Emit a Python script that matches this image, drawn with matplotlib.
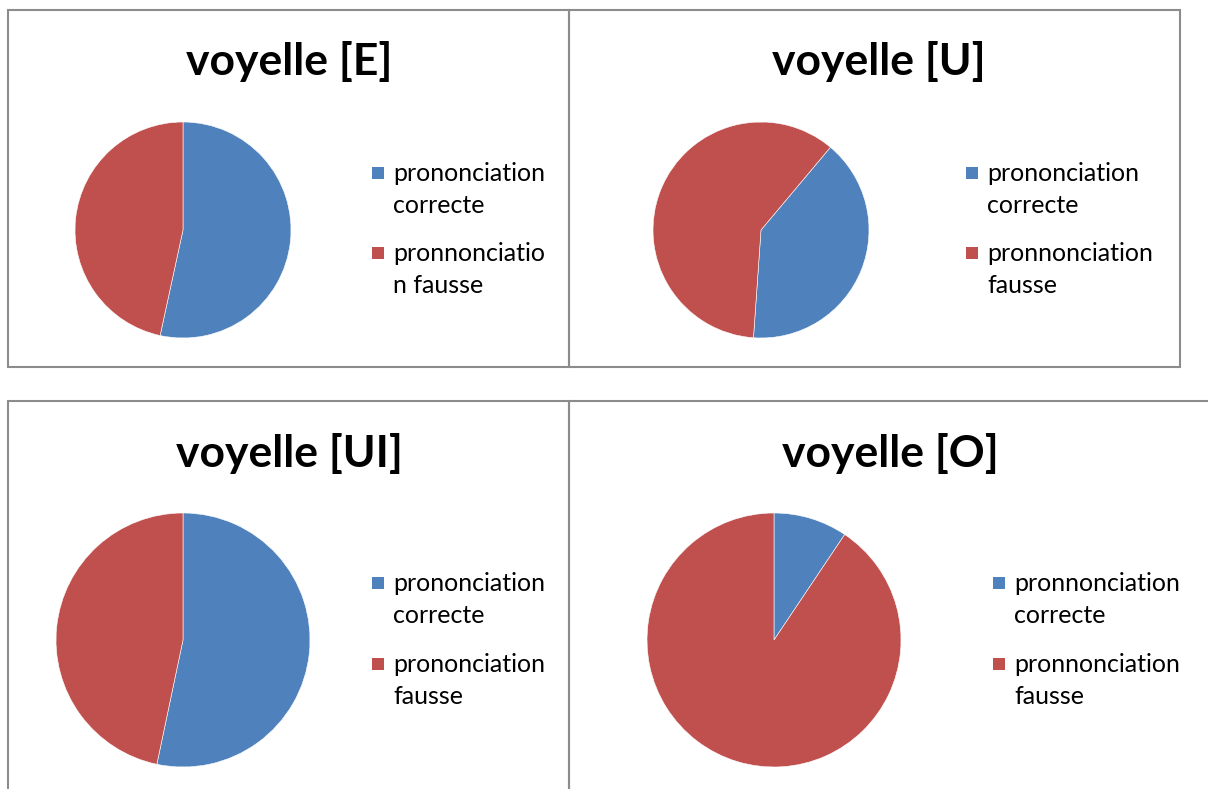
import matplotlib.pyplot as plt
from matplotlib.patches import Rectangle

plt.rcParams['font.family'] = ['Lato', 'DejaVu Sans']

# data (share of each answer, percent)
titles = ["voyelle [E]", "voyelle [U]", "voyelle [UI]", "voyelle [O]"]
values_E = [53.4, 46.6]
values_U = [40.0, 60.0]
values_UI = [53.3, 46.7]
values_O = [9.4, 90.6]
legend_E = ["prononciation\ncorrecte", "pronnonciatio\nn fausse"]
legend_U = ["prononciation\ncorrecte", "pronnonciation\nfausse"]
legend_UI = ["prononciation\ncorrecte", "prononciation\nfausse"]
legend_O = ["pronnonciation\ncorrecte", "pronnonciation\nfausse"]
colors = ["#4F81BD", "#C0504D"]

W, H = 1208, 789
fig = plt.figure(figsize=(W / 100, H / 100), dpi=100)

def fx(x):
    return x / W

def fy(y):
    return 1 - y / H

# panel frames (x0, y0, x1, y1 in pixels from top-left)
frames = [(8, 10, 569, 367), (569, 10, 1180, 367),
          (8, 401, 569, 830), (569, 401, 1250, 830)]
for x0, y0, x1, y1 in frames:
    fig.patches.append(Rectangle((fx(x0), fy(y1)), fx(x1 - x0), (y1 - y0) / H,
                                 transform=fig.transFigure, fill=False,
                                 edgecolor="#8c8c8c", linewidth=1.5, zorder=0))

# pie, title and legend placement per panel
panels = [
    dict(vals=values_E, leg=legend_E, title=titles[0], c=(183, 230), r=108, rot=0,
         tpos=(289, 62), lx=372, ly=(173, 253)),
    dict(vals=values_U, leg=legend_U, title=titles[1], c=(761, 230), r=108, rot=40,
         tpos=(879, 62), lx=966, ly=(173, 253)),
    dict(vals=values_UI, leg=legend_UI, title=titles[2], c=(183, 640), r=127, rot=0,
         tpos=(289, 453), lx=372, ly=(583, 664)),
    dict(vals=values_O, leg=legend_O, title=titles[3], c=(774, 640), r=127, rot=0,
         tpos=(890, 453), lx=993, ly=(583, 664)),
]

for p in panels:
    cx, cy = p["c"]
    r = p["r"]
    ax = fig.add_axes([fx(cx - r), fy(cy + r), 2 * r / W, 2 * r / H])
    ax.pie(p["vals"], colors=colors, startangle=90 - p["rot"], counterclock=False,
           wedgeprops=dict(edgecolor="white", linewidth=0.4))
    ax.set_xlim(-1, 1)
    ax.set_ylim(-1, 1)
    ax.axis("off")

    fig.text(fx(p["tpos"][0]), fy(p["tpos"][1]), p["title"], ha="center", va="center",
             fontsize=32, fontweight="bold", color="black")

    for lab, col, y in zip(p["leg"], colors, p["ly"]):
        fig.patches.append(Rectangle((fx(p["lx"]), fy(y + 6)), 12 / W, 12 / H,
                                     transform=fig.transFigure, facecolor=col,
                                     edgecolor="none"))
        fig.text(fx(p["lx"] + 21), fy(y + 16.5), lab, ha="left", va="center",
                 fontsize=18, linespacing=1.45, color="black")

fig.savefig("out.png", dpi=100)
